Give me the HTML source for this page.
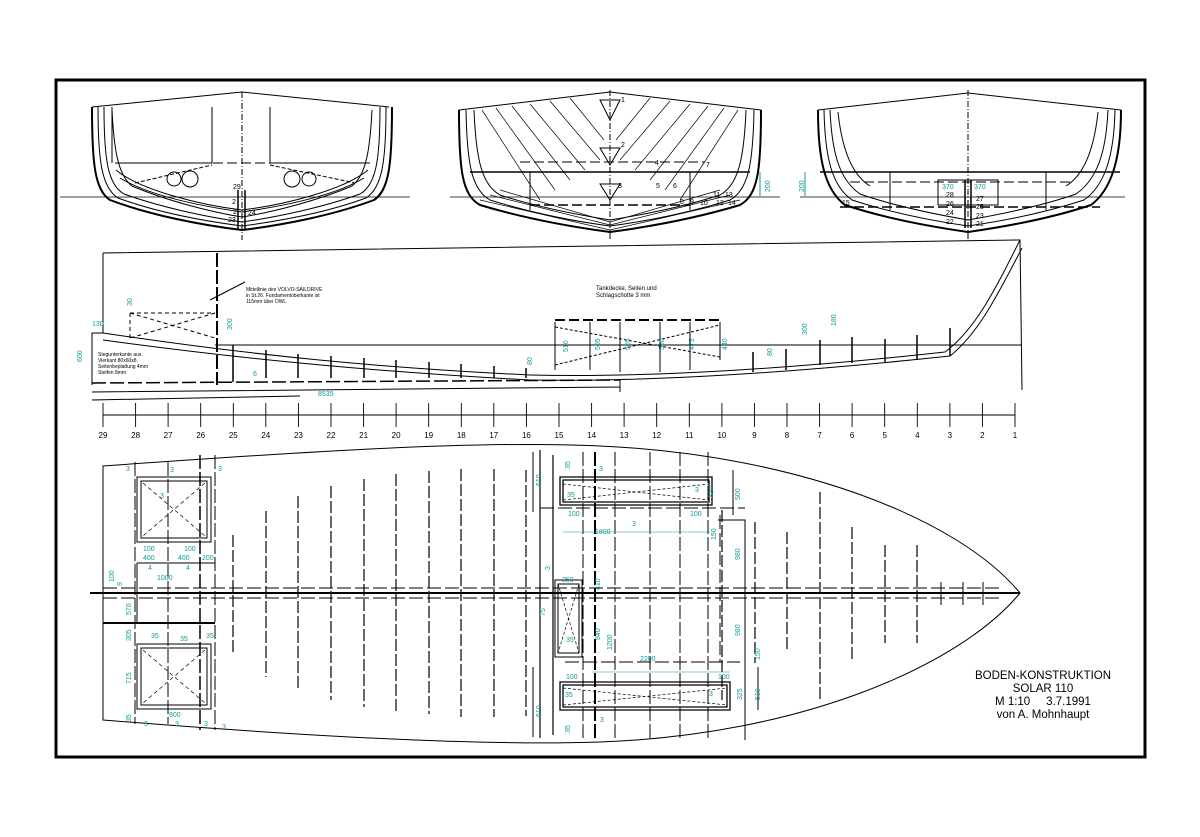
<!DOCTYPE html>
<html><head><meta charset="utf-8"><style>
html,body{margin:0;padding:0;background:#fff;}
svg{display:block}
text{font-family:"Liberation Sans",sans-serif;stroke:none}
.t{fill:#11999a;font-size:7px}
.b{fill:#000;font-size:7px}
</style></head><body>
<svg width="1200" height="837" viewBox="0 0 1200 837" xmlns="http://www.w3.org/2000/svg" fill="none" stroke="#000" stroke-width="1">
<rect x="56" y="80" width="1089" height="677" stroke-width="3"/>

<!-- ===== Cross sections ===== -->
<g id="sec1">
<line x1="60" y1="197" x2="410" y2="197" stroke-width="0.8"/>
<path d="M92,107 L242,92 L389,107" />
<line x1="242" y1="92" x2="242" y2="240" stroke-dasharray="6,2,1,2"/>
<path d="M92,107 C92,165 95,190 110,200 C150,215 200,225 242,230 C284,225 334,215 374,200 C389,190 392,165 392,107" stroke-width="2"/>
<path d="M98,107 C98,162 102,188 118,198 C156,212 204,221 242,226 C280,221 328,212 366,198 C382,188 386,162 386,107"/>
<path d="M104,107 C104,160 108,185 124,194 C160,207 206,217 242,222 C278,217 324,207 360,194 C376,185 380,160 380,107"/>
<path d="M112,110 C114,150 118,175 132,186 C165,200 210,212 242,217 C274,212 319,200 352,186 C366,175 370,150 372,110"/>
<path d="M116,170 C140,190 200,205 242,210 C284,205 344,190 368,170"/>
<path d="M120,178 C150,196 200,206 242,212 C284,206 334,196 364,178"/>
<line x1="115" y1="163" x2="370" y2="163" stroke-dasharray="10,4"/>
<path d="M112,107 L112,163 M270,107 L270,163 L370,163 M115,163 L212,163 L212,107"/>
<circle cx="174" cy="179" r="7"/><circle cx="190" cy="179" r="8"/>
<circle cx="292" cy="179" r="8"/><circle cx="309" cy="179" r="7"/>
<path d="M135,183 L212,165 M270,165 L355,183" stroke-dasharray="4,2"/>
<line x1="238" y1="190" x2="238" y2="230" stroke-width="1.5"/><line x1="245" y1="190" x2="245" y2="230" stroke-width="1.5"/>
<text class="b" x="233" y="189">29</text><text class="b" x="232" y="204">2</text><text class="b" x="233" y="214">2</text><text class="b" x="248" y="215">24</text><text class="b" x="228" y="222">23</text>
</g>

<g id="sec2">
<line x1="450" y1="197" x2="780" y2="197" stroke-width="0.8"/>
<path d="M459,110 L610,92 L761,110"/>
<line x1="610" y1="90" x2="610" y2="240" stroke-dasharray="6,2,1,2"/>
<path d="M459,110 C459,170 462,195 480,205 C530,220 580,228 610,232 C640,228 690,220 740,205 C758,195 761,170 761,110" stroke-width="2"/>
<path d="M466,110 C467,165 472,190 490,200 C535,214 580,222 610,226 C640,222 685,214 730,200 C748,190 753,165 754,110"/>
<path d="M474,110 C476,160 482,185 500,195 C540,208 585,216 610,220 C635,216 680,208 720,195 C738,185 744,160 746,110"/>
<g stroke-width="0.7">
<path d="M482,110 L540,200 M496,108 L555,190 M512,106 L570,180 M530,104 L585,170 M550,101 L600,160 M570,98 L604,140"/>
<path d="M738,110 L680,200 M724,108 L665,190 M708,106 L650,180 M690,104 L635,170 M670,101 L620,160 M650,98 L616,140"/>
<path d="M480,200 L610,230 L740,200 M490,195 L610,225 L730,195 M500,190 L610,222 L720,190"/>
</g>
<path d="M600,100 L620,100 L610,120 Z M600,148 L620,148 L610,165 Z M600,184 L620,184 L610,200 Z"/>
<line x1="470" y1="172" x2="750" y2="172" stroke-width="1.5"/>
<line x1="520" y1="162" x2="705" y2="162" stroke-dasharray="10,4"/>
<line x1="530" y1="205" x2="690" y2="205" stroke-dasharray="10,4" stroke-width="1.5"/>
<path d="M530,172 L530,210 M690,172 L690,210"/>
<text class="b" x="621" y="102">1</text><text class="b" x="621" y="147">2</text><text class="b" x="618" y="188">3</text>
<text class="b" x="655" y="165">4</text><text class="b" x="656" y="188">5</text><text class="b" x="673" y="188">6</text><text class="b" x="706" y="167">7</text>
<text class="b" x="680" y="204">8</text><text class="b" x="690" y="204">9</text><text class="b" x="700" y="205">10</text>
<text class="b" x="713" y="197">11</text><text class="b" x="725" y="197">13</text><text class="b" x="716" y="205">12</text><text class="b" x="728" y="205">14</text>
<path d="M760,172 L760,196" stroke="#11999a"/><text class="t" x="0" y="0" transform="translate(770,192) rotate(-90)">200</text>
</g>

<g id="sec3">
<line x1="800" y1="197" x2="1125" y2="197" stroke-width="0.8"/>
<path d="M818,110 L968,93 L1121,110"/>
<line x1="968" y1="90" x2="968" y2="240" stroke-dasharray="6,2,1,2"/>
<path d="M818,110 C818,160 825,190 845,205 C890,220 940,228 968,232 C996,228 1046,220 1091,205 C1111,190 1121,160 1121,110" stroke-width="2"/>
<path d="M824,110 C825,158 832,186 852,200 C895,214 940,222 968,226 C996,222 1041,214 1084,200 C1104,186 1114,158 1115,110"/>
<path d="M830,110 C832,155 840,180 860,194 C900,208 945,216 968,220 C991,216 1036,208 1076,194 C1096,180 1106,155 1108,110"/>
<path d="M838,112 C842,150 852,175 870,186 M1098,112 C1094,150 1084,175 1066,186"/>
<line x1="820" y1="172" x2="1120" y2="172" stroke-width="1.5"/>
<line x1="850" y1="182" x2="1070" y2="182" stroke-dasharray="10,4"/>
<line x1="840" y1="207" x2="1100" y2="207" stroke-dasharray="10,4" stroke-width="1.5"/>
<path d="M938,180 L998,180 L998,205 L938,205 Z M890,172 L890,210 M1046,172 L1046,210"/>
<line x1="965" y1="180" x2="965" y2="228" stroke-width="1.5"/><line x1="971" y1="180" x2="971" y2="228" stroke-width="1.5"/>
<text class="t" x="942" y="189">370</text><text class="t" x="974" y="189">370</text>
<text class="b" x="946" y="197">28</text><text class="b" x="976" y="201">27</text><text class="b" x="946" y="206">26</text><text class="b" x="976" y="209">25</text>
<text class="b" x="946" y="215">24</text><text class="b" x="976" y="218">23</text><text class="b" x="946" y="224">22</text><text class="b" x="976" y="226">21</text>
<text class="b" x="842" y="205">15</text>
<path d="M805,172 L805,196" stroke="#11999a"/><text class="t" transform="translate(804,192) rotate(-90)">200</text>
</g>

<!-- ===== Profile ===== -->
<g id="profile">
<path d="M103,253 L1020,240 L1022,390"/>
<path d="M103,253 L103,333 L92,333 L92,385"/>
<line x1="217" y1="253" x2="217" y2="385" stroke-width="2" stroke-dasharray="14,3"/>
<line x1="215" y1="345" x2="1022" y2="345"/>
<path d="M103,333 C250,355 380,368 530,375 C650,378 800,368 945,352 C975,330 995,290 1020,240"/>
<path d="M103,340 C250,360 380,372 530,380 C650,382 800,372 950,356 C980,332 1000,290 1022,248"/>
<path d="M92,383 L620,380" stroke-width="1.5" stroke-dasharray="14,4"/>
<path d="M92,392 L620,387 M620,380 L620,392"/>
<path d="M92,400 L300,396" />
<text class="t" x="318" y="396">8535</text>
<g stroke-width="1.5">
<path d="M233,345 V382 M266,350 V378 M298,354 V378 M331,356 V378 M364,358 V378 M396,360 V378 M429,362 V378 M461,364 V378 M494,366 V378 M526,368 V378"/>
<path d="M753,352 V372 M786,349 V370 M820,340 V365 M852,337 V363 M885,339 V362 M917,335 V360 M950,328 V356"/>
</g>
<path d="M130,313 L215,313 M130,313 V338 M130,313 L215,338 M215,313 L130,338" stroke-dasharray="4,3"/>
<path d="M555,320 L720,320" stroke-width="2" stroke-dasharray="10,4"/>
<path d="M555,322 V370 M720,322 V360 M590,322 V370 M620,322 V372 M660,322 V372 M690,322 V370"/>
<path d="M555,327 L720,357 M555,365 L720,325" stroke-dasharray="3,2"/>
<line x1="210" y1="300" x2="245" y2="282"/>
<text class="b" x="246" y="291" style="font-size:5px">Mittellinie des VOLVO-SAILDRIVE</text>
<text class="b" x="246" y="297" style="font-size:5px">in St.26. Fundamentoberkante ist</text>
<text class="b" x="246" y="303" style="font-size:5px">115mm über DWL</text>
<text class="b" x="98" y="356" style="font-size:5px">Stegunterkante aus</text>
<text class="b" x="98" y="362" style="font-size:5px">Vierkant 80x60x8.</text>
<text class="b" x="98" y="368" style="font-size:5px">Seitenbeplattung 4mm</text>
<text class="b" x="98" y="374" style="font-size:5px">Steifen 8mm</text>
<text class="b" x="596" y="290" style="font-size:6px">Tankdecke, Seiten und</text>
<text class="b" x="596" y="297" style="font-size:6px">Schlagschotte  3 mm</text>
<text class="t" x="92" y="326">130</text>
<text class="t" transform="translate(82,362) rotate(-90)">600</text>
<text class="t" transform="translate(132,306) rotate(-90)">30</text>
<text class="t" transform="translate(232,330) rotate(-90)">300</text>
<text class="t" transform="translate(532,365) rotate(-90)">80</text>
<text class="t" x="253" y="376">6</text>
<text class="t" transform="translate(807,335) rotate(-90)">300</text>
<text class="t" transform="translate(836,326) rotate(-90)">180</text>
<text class="t" transform="translate(772,356) rotate(-90)">80</text>
<text class="t" transform="translate(568,352) rotate(-90)">510</text>
<text class="t" transform="translate(600,350) rotate(-90)">505</text>
<text class="t" transform="translate(630,350) rotate(-90)">505</text>
<text class="t" transform="translate(664,350) rotate(-90)">560</text>
<text class="t" transform="translate(694,350) rotate(-90)">475</text>
<text class="t" transform="translate(727,350) rotate(-90)">440</text>
</g>

<!-- ===== Station scale ===== -->
<line x1="103" y1="415" x2="1015" y2="415"/>
<g stroke-width="0.9">
<path d="M103,403V427M135.6,403V427M168.1,403V427M200.7,403V427M233.3,403V427M265.8,403V427M298.4,403V427M331,403V427M363.6,403V427M396.1,403V427M428.7,403V427M461.3,403V427M493.8,403V427M526.4,403V427M559,403V427M591.6,403V427M624.1,403V427M656.7,403V427M689.3,403V427M721.9,403V427M754.4,403V427M787,403V427M819.6,403V427M852.1,403V427M884.7,403V427M917.3,403V427M949.9,403V427M982.4,403V427M1015,403V427"/>
</g>
<g class="b" style="font-size:8px" text-anchor="middle" fill="#000" stroke="none">
<text x="103" y="438">29</text><text x="135.6" y="438">28</text><text x="168.1" y="438">27</text><text x="200.7" y="438">26</text><text x="233.3" y="438">25</text><text x="265.8" y="438">24</text><text x="298.4" y="438">23</text><text x="331" y="438">22</text><text x="363.6" y="438">21</text><text x="396.1" y="438">20</text><text x="428.7" y="438">19</text><text x="461.3" y="438">18</text><text x="493.8" y="438">17</text><text x="526.4" y="438">16</text><text x="559" y="438">15</text><text x="591.6" y="438">14</text><text x="624.1" y="438">13</text><text x="656.7" y="438">12</text><text x="689.3" y="438">11</text><text x="721.9" y="438">10</text><text x="754.4" y="438">9</text><text x="787" y="438">8</text><text x="819.6" y="438">7</text><text x="852.1" y="438">6</text><text x="884.7" y="438">5</text><text x="917.3" y="438">4</text><text x="949.9" y="438">3</text><text x="982.4" y="438">2</text><text x="1015" y="438">1</text>
</g>

<!-- ===== Plan view ===== -->
<g id="plan">
<path d="M103,466 C300,452 480,440 600,446 C800,455 960,520 1020,593 C960,666 800,735 600,742 C480,746 300,736 103,720 Z"/>
<line x1="90" y1="593" x2="1020" y2="593" stroke-width="2"/>
<path d="M103,588 H1000 M103,598 H1000" stroke-dasharray="14,4"/>
<path d="M135,462 V724 M168,462 V724 M215,455 V730" stroke-dasharray="14,3"/>
<path d="M200,455 V730" stroke-dasharray="14,3" stroke-width="1.5"/>
<path d="M137,477 H211 V542 H137 Z M141,481 H207 V538 H141 Z"/>
<path d="M137,644 H211 V709 H137 Z M141,648 H207 V705 H141 Z"/>
<path d="M143,483 L205,536 M205,483 L143,536 M143,650 L205,703 M205,650 L143,703" stroke-dasharray="4,3" stroke-width="0.7"/>
<path d="M103,623 H215" stroke-width="2"/>
<path d="M137,563 H215 M137,563 V623" />
<g stroke-width="1.2" stroke-dasharray="12,3">
<path d="M233,535V652M266,511V677M298,496V690M331,486V700M364,479V707M396,474V712M429,471V714M461,469V717M494,469V717M526,470V716"/>
<path d="M722,510V700M755,522V663M787,532V652M820,492V702M852,527V660M885,545V643M917,545V643"/>
</g>
<path d="M941,582V605M963,582V605M983,582V605"/>
<!-- engine area -->
<path d="M540,450 V738 M553,455 V735" stroke-width="1.2"/>
<path d="M583,452V738M615,452V738M650,452V738M680,452V738M708,452V738" stroke-dasharray="14,3"/>
<path d="M595,452V738" stroke-width="2" stroke-dasharray="14,3"/>
<path d="M560,477 H712 V505 H560 Z M563,480 H709 V502 H563 Z" stroke-width="1.3"/>
<path d="M563,484 L709,500 M563,500 L709,484" stroke-dasharray="3,2" stroke-width="0.7"/>
<path d="M560,682 H730 V710 H560 Z M563,685 H727 V707 H563 Z" stroke-width="1.3"/>
<path d="M563,688 L727,705 M563,705 L727,688" stroke-dasharray="3,2" stroke-width="0.7"/>
<path d="M555,580 H582 V657 H555 Z M558,584 H579 V653 H558 Z"/>
<path d="M558,584 L579,653 M579,584 L558,653" stroke-dasharray="3,2" stroke-width="0.7"/>
<path d="M540,508 H745 M565,662 H740 M720,515 V662" stroke-dasharray="14,4"/>
<path d="M718,520 H745 V740"/>
<path d="M533,452 V512 M533,667 V737 M733,470 V515 M758,667 V710"/>
<path d="M563,532 H710 M592,672 H730"  stroke="#11999a" stroke-width="0.6"/>
<g class="t">
<text x="126" y="471">3</text><text x="218" y="471">3</text><text x="170" y="472">3</text><text x="160" y="498">3</text>
<text x="143" y="551">100</text><text x="184" y="551">100</text>
<text x="143" y="560">400</text><text x="178" y="560">400</text><text x="202" y="560">200</text>
<text x="157" y="580">1000</text><text x="148" y="570">4</text><text x="186" y="570">4</text>
<text transform="translate(114,582) rotate(-90)">100</text><text transform="translate(122,586) rotate(-90)">9</text>
<text transform="translate(131,615) rotate(-90)">570</text><text transform="translate(131,641) rotate(-90)">305</text>
<text transform="translate(131,684) rotate(-90)">715</text><text transform="translate(131,722) rotate(-90)">35</text>
<text x="151" y="638">35</text><text x="180" y="641">35</text><text x="206" y="638">35</text>
<text x="169" y="717">800</text><text x="144" y="726">3</text><text x="175" y="726">3</text><text x="204" y="726">3</text><text x="222" y="729">3</text>
<text transform="translate(541,486) rotate(-90)">610</text><text transform="translate(570,469) rotate(-90)">35</text>
<text x="567" y="497">35</text><text x="599" y="471">3</text><text x="695" y="492">3</text>
<text x="568" y="516">100</text><text x="690" y="516">100</text><text x="595" y="534">1800</text><text x="632" y="526">3</text>
<text transform="translate(713,498) rotate(-90)">320</text><text transform="translate(740,500) rotate(-90)">500</text>
<text transform="translate(716,540) rotate(-90)">150</text><text transform="translate(740,560) rotate(-90)">980</text>
<text transform="translate(550,570) rotate(-90)">3</text><text x="562" y="582">250</text>
<text transform="translate(600,590) rotate(-90)">410</text><text transform="translate(600,640) rotate(-90)">840</text><text transform="translate(612,650) rotate(-90)">1200</text>
<text transform="translate(545,616) rotate(-90)">75</text><text x="566" y="642">35</text>
<text transform="translate(740,636) rotate(-90)">980</text><text x="640" y="661">2200</text>
<text transform="translate(760,660) rotate(-90)">150</text>
<text x="566" y="679">100</text><text x="718" y="679">100</text><text x="709" y="696">3</text>
<text transform="translate(742,700) rotate(-90)">325</text><text transform="translate(760,700) rotate(-90)">510</text>
<text transform="translate(541,717) rotate(-90)">610</text><text x="565" y="697">35</text>
<text transform="translate(570,733) rotate(-90)">35</text><text x="600" y="722">3</text>
</g>
</g>

<!-- Title -->
<g fill="#000" stroke="none" style="font-size:11.5px" text-anchor="middle">
<text x="1043" y="679">BODEN-KONSTRUKTION</text>
<text x="1043" y="692">SOLAR 110</text>
<text x="1043" y="705" xml:space="preserve">M 1:10     3.7.1991</text>
<text x="1043" y="718">von A. Mohnhaupt</text>
</g>
</svg>
</body></html>
